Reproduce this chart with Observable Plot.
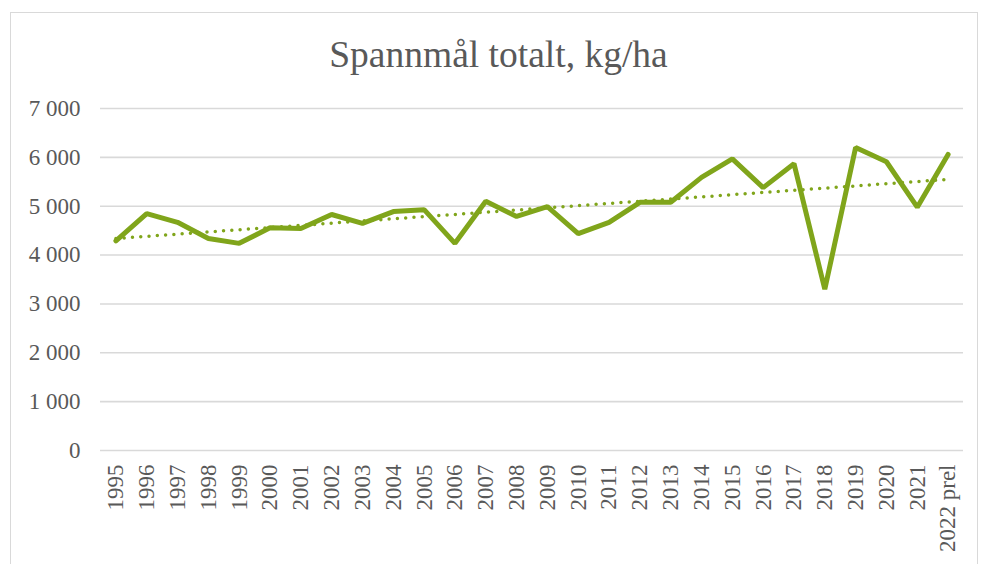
<!DOCTYPE html>
<html>
<head>
<meta charset="utf-8">
<script src="https://cdn.jsdelivr.net/npm/d3@7"></script>
<script src="https://cdn.jsdelivr.net/npm/@observablehq/plot@0.6"></script>
<style>
  html, body { margin: 0; padding: 0; background: #fff; }
  #wrap { position: relative; width: 981px; height: 564px; overflow: hidden; }
  #border { position: absolute; left: 10px; top: 12px; width: 968px; height: 600px; border: 1px solid #d9d9d9; box-sizing: border-box; }
  #title { position: absolute; left: 8px; width: 981px; top: 36px; text-align: center;
           font-family: "Liberation Serif", "Times New Roman", serif; font-size: 37.5px; color: #595959; line-height: 1; }
  #chart { position: absolute; left: 0; top: 0; }
</style>
</head>
<body>
<div id="wrap">
  <div id="border"></div>
  <div id="chart"></div>
  <div id="title">Spannmål totalt, kg/ha</div>
</div>
<script>
const years = ["1995","1996","1997","1998","1999","2000","2001","2002","2003","2004","2005","2006","2007","2008","2009","2010","2011","2012","2013","2014","2015","2016","2017","2018","2019","2020","2021","2022 prel"];
const yields = [4290,4850,4670,4340,4240,4560,4545,4830,4650,4890,4930,4240,5100,4790,4990,4440,4670,5080,5080,5590,5970,5380,5870,3300,6200,5910,4980,6060];
const yTicks = [0,1000,2000,3000,4000,5000,6000,7000];

const data = years.map((y, i) => ({i, year: y, value: yields[i]}));
const green = "#80a51b";
const grey = "#595959";
const fmt = d => d3.format(",")(d).replace(/,/g, " ");

const chart = Plot.plot({
  width: 981,
  height: 564,
  marginTop: 108,
  marginBottom: 114,
  marginLeft: 100,
  marginRight: 18,
  style: { fontFamily: "'Liberation Serif', 'Times New Roman', serif", fontSize: "23px", color: grey, background: "transparent" },
  x: { type: "linear", domain: [-0.5, years.length - 0.5], label: null },
  y: { domain: [0, 7000], label: null },
  marks: [
    Plot.gridY(yTicks, { stroke: "#d9d9d9", strokeOpacity: 1, strokeWidth: 1.6 }),
    Plot.axisY(yTicks, { tickSize: 0, tickPadding: 20, tickFormat: fmt, fill: grey, fontSize: 23, label: null }),
    Plot.axisX(d3.range(years.length), { tickSize: 0, tickPadding: 14, tickRotate: -90, tickFormat: i => years[i], fill: grey, fontSize: 23, label: null }),
    Plot.linearRegressionY(data, { x: "i", y: "value", ci: 0, stroke: green, strokeWidth: 3.5, strokeDasharray: "0 8.3", strokeLinecap: "round" }),
    Plot.line(data, { x: "i", y: "value", stroke: green, strokeWidth: 5, strokeLinejoin: "miter", strokeLinecap: "round" })
  ]
});
document.getElementById("chart").appendChild(chart);
</script>
</body>
</html>
